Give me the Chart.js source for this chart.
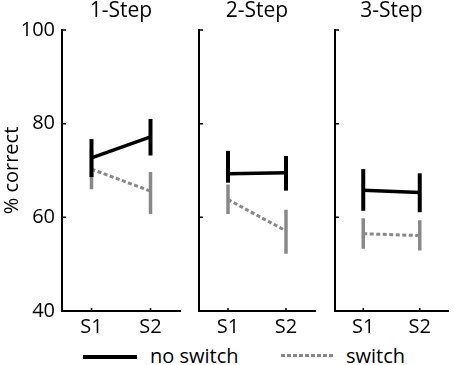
<!DOCTYPE html>
<html>
<head>
<meta charset="utf-8">
<script src="https://cdn.jsdelivr.net/npm/chart.js@4"></script>
<style>
  body { margin: 0; background: #fff; }
  #fig { position: relative; width: 454px; height: 365px; font-family: 'Open Sans', sans-serif; }
  #fig canvas { position: absolute; top: 0; }
  .key-line { position: absolute; }
  .key-text { position: absolute; font-size: 20px; line-height: 20px; color: #000; white-space: nowrap; }
</style>
</head>
<body>
<div id="fig">
  <canvas id="c1" width="190" height="340" style="left:0px"></canvas>
  <canvas id="c2" width="130" height="340" style="left:190px"></canvas>
  <canvas id="c3" width="128" height="340" style="left:326px"></canvas>
  <div class="key-line" style="left:83px;top:354.5px;width:54px;height:4px;background:#000"></div>
  <div class="key-text" style="left:150px;top:345.5px">no switch</div>
  <div class="key-line" style="left:281px;top:353.5px;width:52px;height:3.5px;background:repeating-linear-gradient(90deg,#888 0 4px,transparent 4px 6px)"></div>
  <div class="key-text" style="left:346px;top:345.5px">switch</div>
</div>
<script>
const panels = ['1-Step', '2-Step', '3-Step'];
const stages = ['S1', 'S2'];
const yTicks = [40, 60, 80, 100];

// % correct, mean and error bar ends, per panel
const noSwitchMean = [[72.7, 77.2], [69.3, 69.5], [65.8, 65.3]];
const noSwitchLo = [[68.6, 73.2], [67.4, 65.7], [61.4, 61.1]];
const noSwitchHi = [[76.7, 81.0], [74.2, 73.1], [70.3, 69.4]];
const switchMean = [[70.3, 65.6], [63.8, 57.1], [56.5, 56.1]];
const switchLo = [[66.0, 60.7], [60.7, 52.2], [53.3, 52.9]];
const switchHi = [[74.5, 69.7], [67.0, 61.6], [59.8, 59.4]];

const BLACK = '#000';
const GREY = '#888';
const FONT = "'Open Sans', sans-serif";

// small tick marks pointing into the plot
const innerTicks = {
  id: 'innerTicks',
  afterDraw(chart) {
    const ctx = chart.ctx;
    const area = chart.chartArea;
    const x = chart.scales.x;
    const y = chart.scales.y;
    ctx.save();
    ctx.strokeStyle = BLACK;
    ctx.lineWidth = 1.5;
    ctx.beginPath();
    yTicks.forEach((v) => {
      const py = y.getPixelForValue(v);
      ctx.moveTo(area.left, py);
      ctx.lineTo(area.left + 4, py);
    });
    stages.forEach((s, i) => {
      const px = x.getPixelForValue(i);
      ctx.moveTo(px, area.bottom);
      ctx.lineTo(px, area.bottom - 3);
    });
    ctx.stroke();
    ctx.restore();
  },
};

function errorBars(lo, hi, color, width, order) {
  return stages.map((s, i) => ({
    data: [{ x: s, y: lo[i] }, { x: s, y: hi[i] }],
    borderColor: color,
    borderWidth: width,
    borderCapStyle: 'butt',
    pointRadius: 0,
    order: order,
  }));
}

function makePanel(id, p, yWidth, padRight) {
  const first = p === 0;
  new Chart(document.getElementById(id), {
    type: 'line',
    data: {
      labels: stages,
      datasets: [
        {
          data: noSwitchMean[p],
          borderColor: BLACK,
          borderWidth: 3.5,
          pointRadius: 0,
          order: 1,
        },
        {
          data: switchMean[p],
          borderColor: GREY,
          borderWidth: 3,
          borderDash: [4, 2.5],
          pointRadius: 0,
          order: 4,
        },
        ...errorBars(noSwitchLo[p], noSwitchHi[p], BLACK, 4, 0),
        ...errorBars(switchLo[p], switchHi[p], GREY, 3.5, 3),
      ],
    },
    options: {
      responsive: false,
      animation: false,
      layout: { padding: { left: 0, right: padRight, top: 0, bottom: 0 } },
      plugins: {
        legend: { display: false },
        tooltip: { enabled: false },
        title: {
          display: true,
          text: panels[p],
          fullSize: false,
          color: BLACK,
          font: { family: FONT, size: 21, weight: 'normal', lineHeight: 1 },
          padding: { top: 1, bottom: 8 },
        },
      },
      scales: {
        x: {
          type: 'category',
          offset: true,
          grid: { display: false, drawTicks: false },
          border: { display: true, color: BLACK, width: 2 },
          ticks: { color: BLACK, padding: 4, font: { family: FONT, size: 20 } },
          afterFit: (scale) => { scale.height = 29; },
        },
        y: {
          min: 40,
          max: 100,
          grid: { display: false, drawTicks: false },
          border: { display: true, color: BLACK, width: 2 },
          ticks: {
            display: first,
            stepSize: 20,
            color: BLACK,
            padding: 7,
            font: { family: FONT, size: 20 },
          },
          title: {
            display: first,
            text: '% correct',
            color: BLACK,
            font: { family: FONT, size: 20 },
            padding: { top: 0, bottom: 0 },
          },
          afterFit: (scale) => { scale.width = yWidth; },
        },
      },
    },
    plugins: [innerTicks],
  });
}

makePanel('c1', 0, 62, 10);
makePanel('c2', 1, 9, 5);
makePanel('c3', 2, 9, 6);
</script>
</body>
</html>
